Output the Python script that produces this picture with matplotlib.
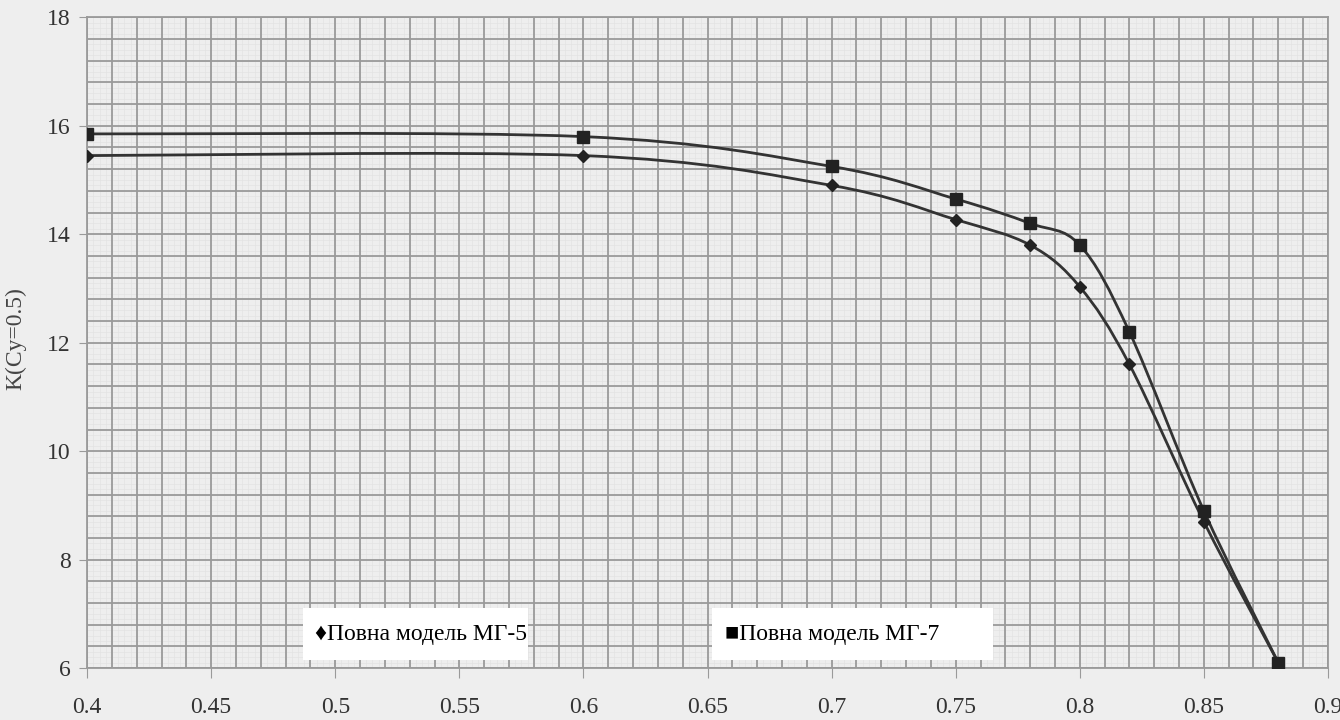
import matplotlib.pyplot as plt
from matplotlib.path import Path
from matplotlib.patches import PathPatch, Rectangle
from matplotlib.ticker import MultipleLocator

mach = [0.4, 0.6, 0.7, 0.75, 0.78, 0.8, 0.82, 0.85, 0.88]
k_mg5 = [15.45, 15.45, 14.9, 14.27, 13.8, 13.03, 11.6, 8.7, 6.1]
k_mg7 = [15.85, 15.8, 15.25, 14.65, 14.2, 13.8, 12.2, 8.9, 6.1]
label_mg5 = "\u2666Повна модель МГ-5"
label_mg7 = "\u25a0Повна модель МГ-7"

plt.rcParams['font.family'] = ['Liberation Serif', 'DejaVu Sans']

bg = '#eeeeee'
ink = '#222222'
grid_c = '#9a9a9a'


def smooth_path(xs, ys):
    # excel-like smoothed line: cubic bezier between neighbouring points
    pts = list(zip(xs, ys))
    verts = [pts[0]]
    codes = [Path.MOVETO]
    n = len(pts)
    for i in range(n - 1):
        p0 = pts[i - 1] if i > 0 else pts[i]
        p1 = pts[i]
        p2 = pts[i + 1]
        p3 = pts[i + 2] if i + 2 < n else pts[i + 1]
        c1 = (p1[0] + (p2[0] - p0[0]) / 6, p1[1] + (p2[1] - p0[1]) / 6)
        c2 = (p2[0] - (p3[0] - p1[0]) / 6, p2[1] - (p3[1] - p1[1]) / 6)
        verts += [c1, c2, p2]
        codes += [Path.CURVE4] * 3
    return Path(verts, codes)


fig = plt.figure(figsize=(13.4, 7.2), dpi=100, facecolor=bg)
ax = fig.add_axes([0.065, 0.072, 0.926, 0.904])
ax.set_facecolor(bg)

for ys, mk, ms in [(k_mg5, 'D', 6), (k_mg7, 's', 9)]:
    ax.add_patch(PathPatch(smooth_path(mach, ys), fill=False, edgecolor='#333333',
                           lw=2, zorder=3))
    ax.plot(mach, ys, linestyle='none', marker=mk, ms=ms, color=ink, zorder=4)

ax.set_xlim(0.4, 0.9)
ax.set_ylim(6, 18)
ax.xaxis.set_major_locator(MultipleLocator(0.05))
ax.yaxis.set_major_locator(MultipleLocator(2))
ax.set_xticklabels([f"{v:g}" for v in ax.get_xticks()])

# graph paper grid
for v in [0.4 + 0.0025 * i for i in range(201)]:
    ax.axvline(v, color='#e3e3e3', lw=0.5, zorder=0.5)
for v in [6 + 0.1 * i for i in range(121)]:
    ax.axhline(v, color='#e3e3e3', lw=0.5, zorder=0.5)
for v in [0.4 + 0.01 * i for i in range(51)]:
    ax.axvline(v, color=grid_c, lw=1.3, zorder=1)
for v in [6 + 0.4 * i for i in range(31)]:
    ax.axhline(v, color=grid_c, lw=1.3, zorder=1)

for s in ax.spines.values():
    s.set_color(grid_c)
    s.set_linewidth(1.3)
ax.tick_params(axis='x', length=7, pad=14, colors=grid_c, labelcolor='#333333',
               labelsize=17)
ax.tick_params(axis='y', length=6, pad=6, colors=grid_c, labelcolor='#333333',
               labelsize=17)

fig.text(0.012, 0.53, "K(Cy=0.5)", rotation=90, va='center', ha='center',
         fontsize=17, color='#444444')

# legend boxes
for x0, x1, txt in [(0.174, 0.355, label_mg5), (0.504, 0.73, label_mg7)]:
    ax.add_patch(Rectangle((x0, 0.012), x1 - x0, 0.08, transform=ax.transAxes,
                           facecolor='white', edgecolor='none', zorder=5))
    ax.text(x0 + 0.01, 0.052, txt, transform=ax.transAxes, va='center', ha='left',
            fontsize=17, color='black', zorder=6)

fig.savefig('out.png', dpi=100, facecolor=bg)
